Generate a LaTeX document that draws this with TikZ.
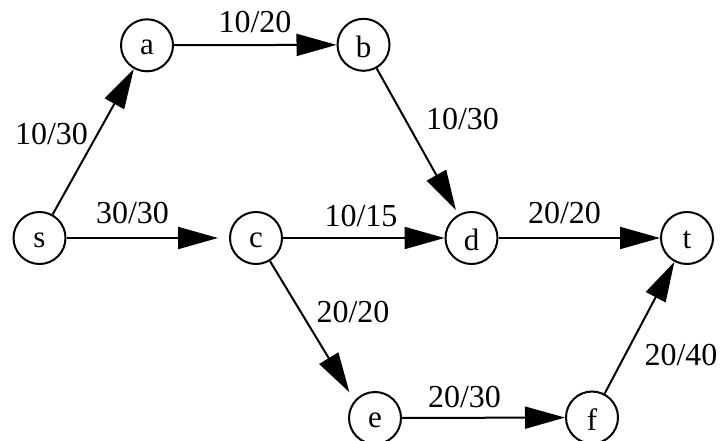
\documentclass[tikz,border=0pt]{standalone}
\usepackage{fontspec}
\setmainfont{Liberation Serif}
\usetikzlibrary{arrows.meta}
\newcommand\lowerlet[1]{\raisebox{-2.3pt}[\height][\depth]{#1}}
\tikzset{
  vtx/.style={circle,draw,line width=2pt,minimum size=52pt,inner sep=0pt,
    font=\fontsize{31}{36}\selectfont},
  edge/.style={line width=2pt,-{Triangle[length=40pt,width=22pt]}},
  lbl/.style={anchor=base,inner sep=0pt,font=\fontsize{32}{36}\selectfont}
}
\begin{document}
\begin{tikzpicture}[x=1pt,y=-1pt]
\useasboundingbox (0,0) rectangle (720,441);
\node[vtx] (s) at (39.5,238) {\lowerlet{s}};
\node[vtx] (a) at (147,45.3) {\lowerlet{a}};
\node[vtx] (b) at (363.5,44.8) {\lowerlet{b}};
\node[vtx] (c) at (256,238) {\lowerlet{c}};
\node[vtx] (d) at (471.5,238) {\lowerlet{d}};
\node[vtx] (t) at (687,238) {\lowerlet{t}};
\node[vtx] (e) at (375,418) {\lowerlet{e}};
\node[vtx] (f) at (592,417.5) {\lowerlet{f}};
\draw[edge] (s) -- (a);
\draw[edge] (a) -- (b);
\draw[edge,shorten >=5pt] (b) -- (d);
\draw[edge,shorten >=11pt] (s) -- (c);
\draw[edge] (c) -- (d);
\draw[edge] (d) -- (t);
\draw[edge,shorten >=30pt] (c) -- ([xshift=-10pt]e.center);
\draw[edge] (e) -- (f);
\draw[edge] (f) -- (t);
\node[lbl] (l1) at (51.5,145) {10/30};
\node[lbl] (l2) at (255,33) {10/20};
\node[lbl] (l3) at (462.5,130) {10/30};
\node[lbl] (l4) at (132.5,223) {30/30};
\node[lbl] (l5) at (361,226) {10/15};
\node[lbl] (l6) at (564.5,223) {20/20};
\node[lbl] (l7) at (353,322) {20/20};
\node[lbl] (l8) at (464.5,407) {20/30};
\node[lbl] (l9) at (681,365) {20/40};
\end{tikzpicture}
\end{document}
